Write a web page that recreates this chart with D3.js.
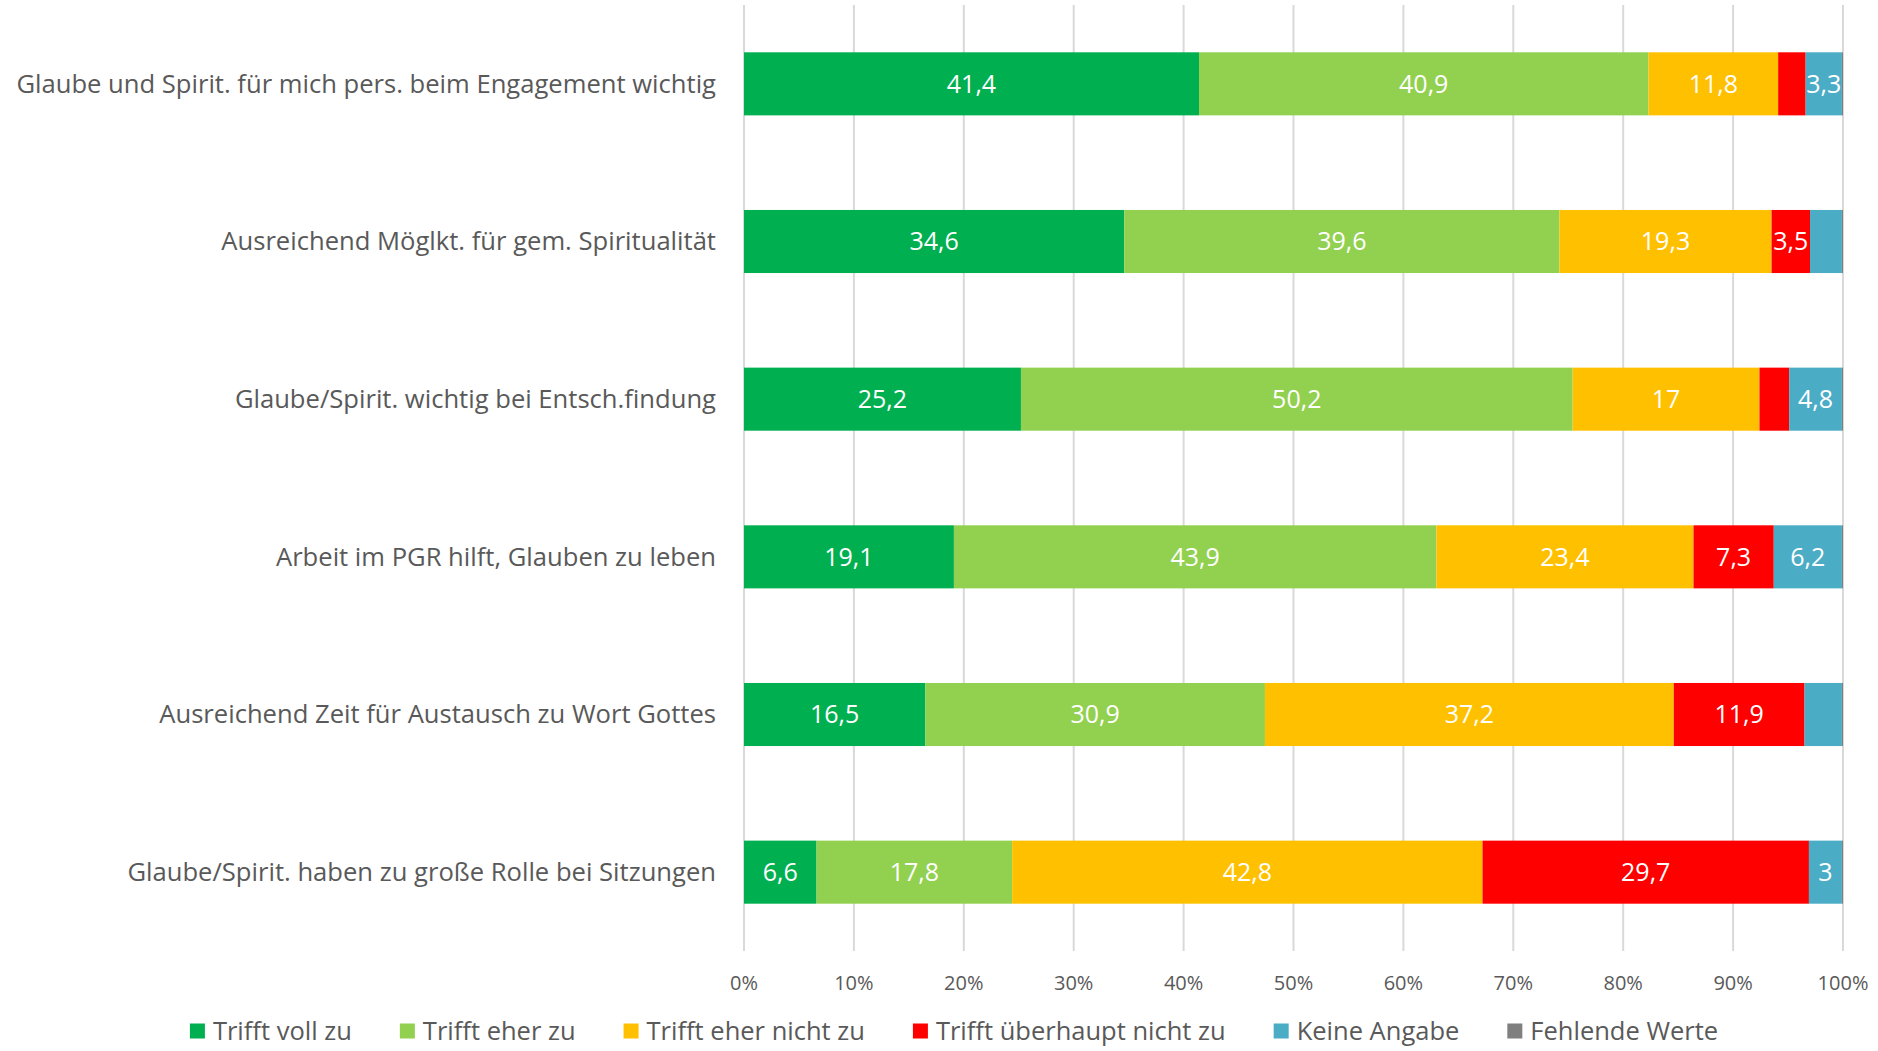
<!DOCTYPE html>
<html lang="de">
<head>
<meta charset="UTF-8">
<title>Glaube und Spiritualität im PGR</title>
<script src="https://d3js.org/d3.v7.min.js"></script>
<style>
    body { margin: 0; background: #fff; font-family: "Open Sans", Arial, sans-serif; }
    .grid line { stroke: #d9d9d9; stroke-width: 2px; }
    .cat { fill: #595959; font-size: 25.6px; }
    .tick-label { fill: #595959; font-size: 20px; }
    .bar-label { fill: #fff; font-size: 25px; }
    .legend text { fill: #595959; font-size: 25.5px; }
</style>
</head>
<body>
<div id="chart"></div>
<script>
    const categories = [
        "Glaube und Spirit. für mich pers. beim Engagement wichtig",
        "Ausreichend Möglkt. für gem. Spiritualität",
        "Glaube/Spirit. wichtig bei Entsch.findung",
        "Arbeit im PGR hilft, Glauben zu leben",
        "Ausreichend Zeit für Austausch zu Wort Gottes",
        "Glaube/Spirit. haben zu große Rolle bei Sitzungen"
    ];
    const seriesNames = ["Trifft voll zu", "Trifft eher zu", "Trifft eher nicht zu",
        "Trifft überhaupt nicht zu", "Keine Angabe", "Fehlende Werte"];
    const seriesColors = ["#00b050", "#92d050", "#ffc000", "#ff0000", "#4bacc6", "#7f7f7f"];

    const volZu      = [41.4, 34.6, 25.2, 19.1, 16.5, 6.6];
    const eherZu     = [40.9, 39.6, 50.2, 43.9, 30.9, 17.8];
    const eherNicht  = [11.8, 19.3, 17, 23.4, 37.2, 42.8];
    const garNicht   = [2.5, 3.5, 2.7, 7.3, 11.9, 29.7];
    const keineAng   = [3.3, 2.9, 4.8, 6.2, 3.4, 3];
    const fehlend    = [0.1, 0.1, 0.1, 0.1, 0.1, 0.1];

    // labels that are not shown in the original (series index - row index)
    const hiddenLabels = ["3-0", "4-1", "3-2", "4-4", "5-0", "5-1", "5-2", "5-3", "5-4", "5-5"];
    const tickValues = [0, 10, 20, 30, 40, 50, 60, 70, 80, 90, 100];

    const allSeries = [volZu, eherZu, eherNicht, garNicht, keineAng, fehlend];
    const rows = categories.map((c, i) => {
        const r = { cat: c };
        allSeries.forEach((s, k) => r["s" + k] = s[i]);
        return r;
    });
    const keys = allSeries.map((s, k) => "s" + k);

    const width = 1878, height = 1051;
    const svg = d3.select("#chart").append("svg")
        .attr("width", width).attr("height", height);

    const x = d3.scaleLinear().domain([0, 100]).range([744, 1843]);
    const y = d3.scaleBand().domain(categories).range([5, 951]).paddingInner(0.6).paddingOuter(0.3);

    // gridlines
    svg.append("g").attr("class", "grid")
        .selectAll("line").data(tickValues).join("line")
        .attr("x1", d => x(d)).attr("x2", d => x(d))
        .attr("y1", 5).attr("y2", 951);

    svg.append("g").selectAll("text").data(tickValues).join("text")
        .attr("class", "tick-label")
        .attr("x", d => x(d)).attr("y", 983)
        .attr("text-anchor", "middle").attr("dy", "0.35em")
        .text(d => d + "%");

    const stacked = d3.stack().keys(keys)(rows);

    const groups = svg.append("g").selectAll("g").data(stacked).join("g")
        .attr("fill", (d, k) => seriesColors[k]);

    groups.selectAll("rect").data(d => d).join("rect")
        .attr("x", d => x(d[0]))
        .attr("width", d => x(d[1]) - x(d[0]))
        .attr("y", d => y(d.data.cat))
        .attr("height", y.bandwidth());

    groups.each(function (s, k) {
        d3.select(this).selectAll("text").data(s).join("text")
            .attr("class", "bar-label")
            .attr("x", d => (x(d[0]) + x(d[1])) / 2)
            .attr("y", d => y(d.data.cat) + y.bandwidth() / 2)
            .attr("dy", "0.35em")
            .attr("text-anchor", "middle")
            .text((d, i) => hiddenLabels.includes(k + "-" + i) ? "" : String(d.data["s" + k]).replace(".", ","));
    });

    // category labels
    svg.append("g").selectAll("text").data(categories).join("text")
        .attr("class", "cat")
        .attr("x", 716)
        .attr("y", d => y(d) + y.bandwidth() / 2)
        .attr("dy", "0.35em")
        .attr("text-anchor", "end")
        .text(d => d);

    // legend
    const legend = svg.append("g").attr("class", "legend");
    const items = legend.selectAll("g").data(seriesNames).join("g");
    items.append("rect").attr("width", 15).attr("height", 15)
        .attr("y", -7.5).attr("fill", (d, i) => seriesColors[i]);
    items.append("text").attr("x", 23).attr("dy", "0.35em").text(d => d);
    let pos = 0;
    const offsets = [];
    items.each(function () {
        offsets.push(pos);
        pos += 23 + this.querySelector("text").getComputedTextLength() + 48;
    });
    const total = pos - 48;
    const startX = 954 - total / 2;
    items.attr("transform", (d, i) => `translate(${startX + offsets[i]},1031)`);
</script>
</body>
</html>
